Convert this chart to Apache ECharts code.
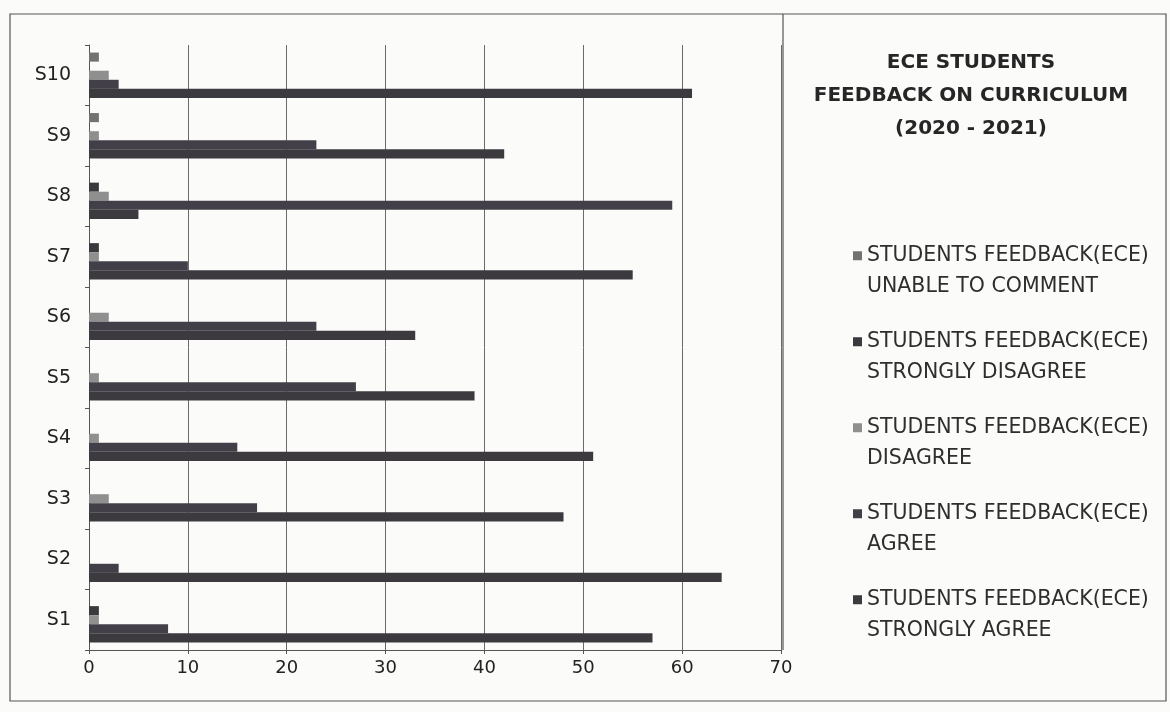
<!DOCTYPE html>
<html>
<head>
<meta charset="utf-8">
<script src="https://cdn.jsdelivr.net/npm/echarts@6/dist/echarts.min.js"></script>
<style>
html,body{margin:0;padding:0;background:#fbfbfa;}
#chart{width:1170px;height:712px;}
</style>
</head>
<body>
<div id="chart"></div>
<script>
const categories = ['S1','S2','S3','S4','S5','S6','S7','S8','S9','S10'];
const xTicks = [0,10,20,30,40,50,60,70];
const stronglyAgree     = [57,64,48,51,39,33,55, 5,42,61];
const agree             = [ 8, 3,17,15,27,23,10,59,23, 3];
const disagree          = [ 1, 0, 2, 1, 1, 2, 1, 2, 1, 2];
const stronglyDisagree  = [ 1, 0, 0, 0, 0, 0, 1, 1, 0, 0];
const unableToComment   = [ 0, 0, 0, 0, 0, 0, 0, 0, 1, 1];

const names = [
  'STUDENTS FEEDBACK(ECE)\nUNABLE TO COMMENT',
  'STUDENTS FEEDBACK(ECE)\nSTRONGLY DISAGREE',
  'STUDENTS FEEDBACK(ECE)\nDISAGREE',
  'STUDENTS FEEDBACK(ECE)\nAGREE',
  'STUDENTS FEEDBACK(ECE)\nSTRONGLY AGREE'
];
const seriesData = [unableToComment, stronglyDisagree, disagree, agree, stronglyAgree];
const colors = ['#727272', '#3a393d', '#8f8f8f', '#433f48', '#3c3a3f'];

const chart = echarts.init(document.getElementById('chart'), null, {renderer:'canvas'});
const font = '"DejaVu Sans", "Open Sans", sans-serif';
const legendIcon = 'path://M0,0L10,0L10,10L0,10Z M0,44L0.05,44L0.05,44.05Z';

chart.setOption({
  backgroundColor: '#fbfbfa',
  animation: false,
  title: {
    text: 'ECE STUDENTS\nFEEDBACK ON CURRICULUM\n(2020 - 2021)',
    left: 966, top: 41, textAlign: 'center',
    textStyle: {fontFamily: font, fontSize: 20, fontWeight: 'bold', color: '#262626', lineHeight: 33}
  },
  legend: {
    orient: 'vertical',
    left: 853, top: 240, padding: 0,
    itemWidth: 9, itemHeight: 40,
    itemGap: 24,
    icon: legendIcon,
    data: names,
    textStyle: {fontFamily: font, fontSize: 20.5, color: '#2e2e2e', lineHeight: 31}
  },
  grid: {left: 89, right: 389, top: 45, bottom: 62, containLabel: false},
  xAxis: {
    type: 'value', min: 0, max: 70, interval: 10,
    axisLine: {show: true, lineStyle: {color: '#555', width: 1}},
    axisTick: {show: true, length: 4, lineStyle: {color: '#555'}},
    axisLabel: {fontFamily: font, fontSize: 18, color: '#222', margin: 9,
      formatter: v => xTicks.includes(v) ? String(v) : ''},
    splitLine: {show: true, lineStyle: {color: '#6a6a6a', width: 1}}
  },
  yAxis: {
    type: 'category', data: categories,
    axisLine: {show: true, lineStyle: {color: '#555', width: 1}},
    axisTick: {show: true, length: 4, lineStyle: {color: '#555'}},
    axisLabel: {fontFamily: font, fontSize: 19, color: '#222', margin: 18}
  },
  series: names.map((n, i) => ({
    name: n,
    type: 'bar',
    data: seriesData[i],
    barGap: '0%',
    barCategoryGap: '25%',
    itemStyle: {color: colors[i]}
  })),
  graphic: [
    {type: 'rect', shape: {x: 10, y: 14, width: 1156, height: 687}, style: {fill: 'none', stroke: '#555', lineWidth: 1.2}, silent: true},
    {type: 'line', shape: {x1: 783, y1: 14, x2: 783, y2: 650}, style: {stroke: '#555', lineWidth: 1.2}, silent: true}
  ]
});
</script>
</body>
</html>
